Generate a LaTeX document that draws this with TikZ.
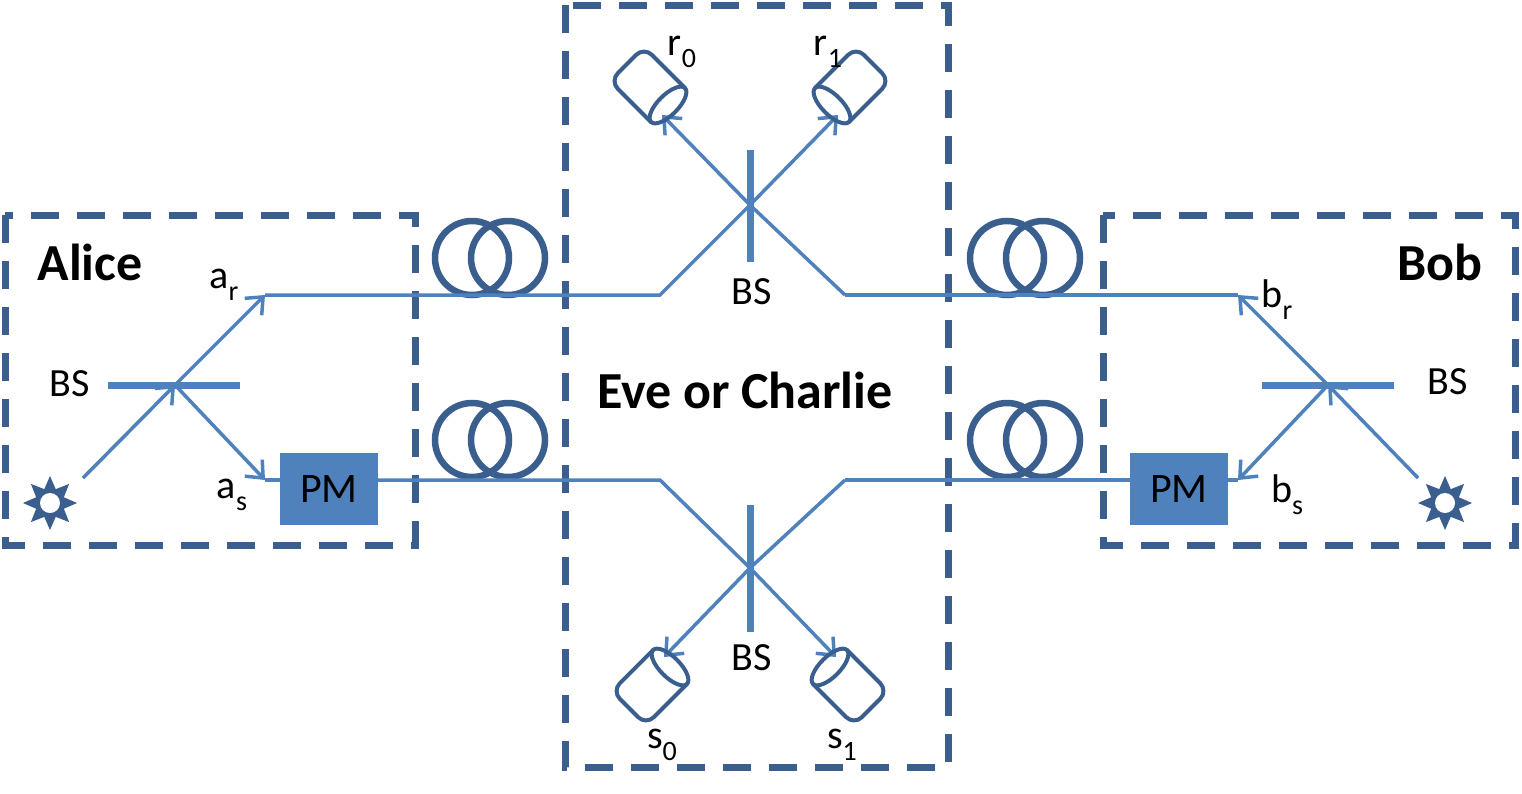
\documentclass[tikz,border=0pt]{standalone}
\usepackage{fontspec}
\setmainfont{Carlito}
\usetikzlibrary{arrows.meta}
\definecolor{dk}{HTML}{3A5F8E}
\definecolor{bm}{HTML}{4F81BD}
\tikzset{
 boxd/.style={draw=dk,line width=7pt,dash pattern=on 28pt off 18pt},
 beam/.style={draw=bm,line width=3.5pt},
 arr/.style={beam,-{Straight Barb[length=14pt,width=24pt,line width=3.5pt]}},
 bsbar/.style={draw=bm,line width=7pt},
 coil/.style={draw=dk,line width=6.5pt},
 lab/.style={font=\fontsize{40}{42}\selectfont,inner sep=0pt},
 big/.style={font=\fontsize{52}{56}\selectfont\bfseries,inner sep=0pt},
 pmbox/.style={fill=bm,minimum width=98pt,minimum height=72pt,font=\fontsize{42}{44}\selectfont,inner sep=0pt},
 det/.pic={\draw[dk,line width=4pt,rounded corners=11pt] (0,24) -- (-58,24) -- (-58,-24) -- (0,-24);
           \draw[dk,line width=4pt] (0,0) ellipse (10 and 24);},
 star/.pic={\fill[dk] (0:27) \foreach \i in {0,...,7}{ -- ({\i*45+22.5}:15) -- ({\i*45+45}:27)} -- cycle;
            \fill[white] (0,0) circle (10);}
}
\newcommand{\subt}[1]{\raisebox{-0.3em}{\fontsize{28}{30}\selectfont #1}}
\begin{document}
\begin{tikzpicture}[x=1pt,y=-1pt]
\useasboundingbox (0,0) rectangle (1522,793);
% boxes
\draw[boxd] (5,215) rectangle (415,545);
\draw[boxd] (565,5) rectangle (948,767);
\draw[boxd] (1103,215) rectangle (1515,545);
% coordinates
\coordinate (abs) at (175,385);
\coordinate (bbs) at (1328,385);
\coordinate (ebt) at (750,205);
\coordinate (ebb) at (750,568);
\coordinate (ar) at (265,295);
\coordinate (asx) at (265,480);
\coordinate (br) at (1238,295);
\coordinate (bsx) at (1238,480);
\coordinate (t1) at (660,295);
\coordinate (t2) at (845,295);
\coordinate (u1) at (660,480);
\coordinate (u2) at (845,480);
\coordinate (r0) at (662,115);
\coordinate (r1) at (838,115);
\coordinate (s0) at (664,657);
\coordinate (s1) at (836,657);
\node[pmbox] (pma) at (329,489) {PM};
\node[pmbox] (pmb) at (1179,489) {PM};
% coils
\foreach \cx/\cy in {490/258,1025/258,490/440,1025/440}{
  \draw[coil] (\cx-18,\cy) circle (37);
  \draw[coil] (\cx+18,\cy) circle (37);}
% beams
\draw[arr] (83,478) -- (abs);
\draw[arr] (abs) -- (ar);
\draw[arr] (abs) -- (asx);
\draw[beam] (asx) -- (pma.west |- asx);
\draw[beam] (ar) -- (t1) -- (ebt);
\draw[arr] (ebt) -- (r1);
\draw[arr] (t2) -- (ebt) -- (r0);
\draw[beam] (t2) -- (br);
\draw[beam] (pma.east |- u1) -- (u1) -- (ebb);
\draw[arr] (ebb) -- (s1);
\draw[arr] (u2) -- (ebb) -- (s0);
\draw[beam] (u2) -- (pmb.west |- u2);
\draw[arr] (1418,478) -- (bbs);
\draw[arr] (bbs) -- (br);
\draw[arr] (bbs) -- (bsx);
\draw[beam] (bsx) -- (pmb.east |- bsx);
% BS bars
\draw[bsbar] (108,385) -- (240,385);
\draw[bsbar] (1262,385) -- (1394,385);
\draw[bsbar] (750,150) -- (750,262);
\draw[bsbar] (750,505) -- (750,632);
% detectors
\pic[rotate=-45] at (668,105) {det};
\pic[rotate=-135] at (832,105) {det};
\pic[rotate=45] at (670,667) {det};
\pic[rotate=135] at (830,667) {det};
% sources
\pic at (50,503) {star};
\pic at (1445,503) {star};
% labels
\node[big] (alice) at (90,262) {Alice};
\node[big] (bob) at (1440,262) {Bob};
\node[big] (eve) at (745,390) {Eve or Charlie};
\node[lab] (bs1) at (70,384) {BS};
\node[lab] (bs2) at (1448,382) {BS};
\node[lab] (bs3) at (752,292) {BS};
\node[lab] (bs4) at (752,658) {BS};
\node[lab] (lar) at (224,285) {a\subt{r}};
\node[lab] (las) at (232,495) {a\subt{s}};
\node[lab] (lbr) at (1277,300) {b\subt{r}};
\node[lab] (lbs) at (1287,495) {b\subt{s}};
\node[lab] (lr0) at (682,52) {r\subt{0}};
\node[lab] (lr1) at (828,52) {r\subt{1}};
\node[lab] (ls0) at (662,745) {s\subt{0}};
\node[lab] (ls1) at (842,745) {s\subt{1}};
\end{tikzpicture}
\end{document}
